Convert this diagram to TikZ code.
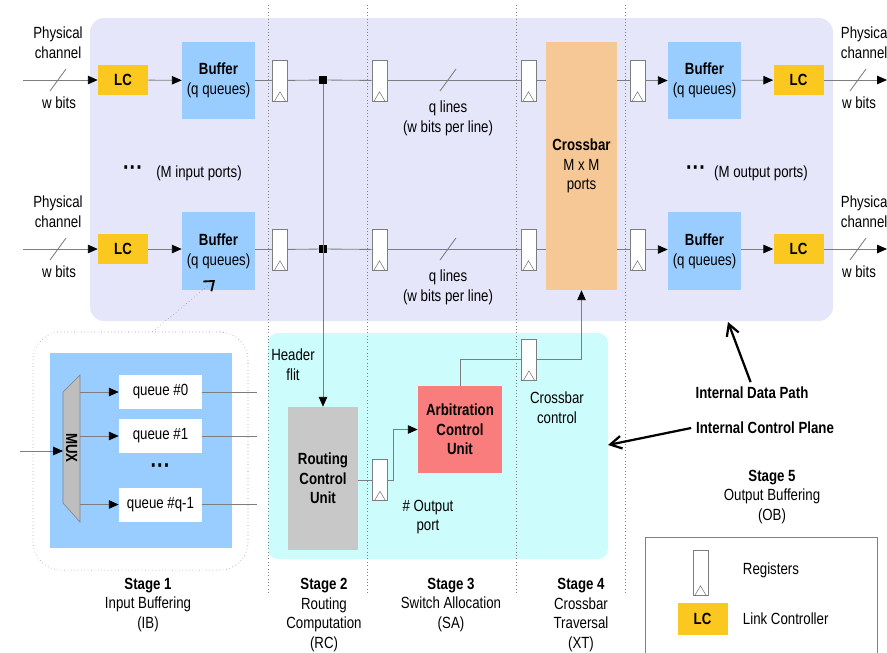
\documentclass[tikz,border=0pt]{standalone}
\usepackage{fontspec}
\setmainfont{Liberation Sans}[FakeStretch=0.82]
\usepackage{tikz}
\usepackage{xcolor}
\usetikzlibrary{positioning, arrows.meta, calc}

\definecolor{pathbg}{RGB}{230,230,250}
\definecolor{ctrlbg}{RGB}{204,252,252}
\definecolor{bufblue}{RGB}{153,204,255}
\definecolor{lcgold}{RGB}{250,200,30}
\definecolor{xbarpeach}{RGB}{245,200,150}
\definecolor{arbred}{RGB}{250,125,125}
\definecolor{rcugray}{RGB}{200,200,200}
\definecolor{muxgray}{RGB}{190,190,190}
\definecolor{wiregray}{RGB}{125,125,125}
\newcommand{\diagfont}{\fontsize{11.5}{14}\selectfont}

\begin{document}
\begin{tikzpicture}[
                x=0.025cm, y=-0.025cm,
                font=\diagfont,
                wire/.style={draw=wiregray, line width=0.6pt},
                data_flow/.style={wire, -{Triangle[length=7pt, width=6pt, black]}},
                note_arrow/.style={line width=1.6pt, -{Straight Barb[length=8pt, width=9pt]}},
                zoom_link/.style={draw=gray, dotted, -{Straight Barb[black, length=6pt, width=9pt, line width=1.3pt]}},
                stage_line/.style={draw=gray, dotted},
                lc_box/.style={rectangle, fill=lcgold, minimum width=1.25cm, minimum height=0.75cm, inner sep=0pt, font=\diagfont\bfseries},
                buf_box/.style={rectangle, fill=bufblue, minimum width=1.825cm, minimum height=1.925cm, inner sep=0pt, align=center},
                reg_box/.style={rectangle, draw=wiregray, fill=white, minimum width=0.375cm, minimum height=1.025cm, inner sep=0pt,
                    path picture={\draw[wiregray] ([xshift=1.5pt]path picture bounding box.south west) -- ([yshift=0.23cm]path picture bounding box.south) -- ([xshift=-1.5pt]path picture bounding box.south east);}},
                junc_dot/.style={rectangle, fill=black, minimum size=0.2cm, inner sep=0pt},
                queue_box/.style={rectangle, fill=white, minimum width=2.075cm, minimum height=0.85cm, inner sep=0pt},
                unit_box/.style={rectangle, inner sep=0pt, align=center, font=\diagfont\bfseries},
                dots_text/.style={font=\fontsize{17}{17}\selectfont\bfseries},
                label_text/.style={align=center},
                slash/.style={wire}
            ]
                \useasboundingbox (0,0) rectangle (887,652);

                % Internal data path and control plane
                \fill[pathbg, rounded corners=10pt] (90,18) rectangle (833,321);
                \fill[ctrlbg, rounded corners=7pt] (268,333) rectangle (608,559);

                % Pipeline stage boundaries
                \draw[stage_line] (268,5) -- (268,593);
                \draw[stage_line] (367,5) -- (367,593);
                \draw[stage_line] (516,5) -- (516,593);
                \draw[stage_line] (625,5) -- (625,593);

                % Crossbar
                \node[unit_box, fill=xbarpeach, minimum width=1.775cm, minimum height=6.2cm, font=\diagfont] (xbar) at (581.5,166) {\textbf{Crossbar}\\M x M\\ports};

                % Port 1
                \coordinate (in1_start) at (23,80);
                \node[lc_box] (lc_in1) at (123,80) {LC};
                \node[buf_box] (buf_in1) at (218.5,80.5) {\textbf{Buffer}\\(q queues)};
                \node[reg_box] (reg_a1) at (280,80.5) {};
                \node[junc_dot] (junc1) at (323,80) {};
                \node[reg_box] (reg_b1) at (379.5,80.5) {};
                \node[reg_box] (reg_c1) at (528.5,80.5) {};
                \node[reg_box] (reg_d1) at (637.5,80.5) {};
                \node[buf_box] (buf_out1) at (704.5,80.5) {\textbf{Buffer}\\(q queues)};
                \node[lc_box] (lc_out1) at (798.5,80) {LC};
                \coordinate (out1_end) at (887,80);
                \draw[data_flow] (in1_start) -- (lc_in1);
                \draw[data_flow] (lc_in1) -- (buf_in1);
                \draw[wire] (buf_in1) -- (reg_a1);
                \draw[wire] (reg_a1) -- (junc1) -- (reg_b1);
                \draw[wire] (reg_b1) -- (reg_c1);
                \draw[wire] (reg_c1) -- (reg_c1 -| xbar.west);
                \draw[wire] (xbar.east |- reg_d1) -- (reg_d1);
                \draw[data_flow] (reg_d1) -- (buf_out1);
                \draw[data_flow] (buf_out1) -- (lc_out1);
                \draw[data_flow] (lc_out1) -- (out1_end);
                \draw[slash] (58,80) ++(-8,11) -- ++(16,-22);
                \draw[slash] (448,80) ++(-8,11) -- ++(16,-22);
                \draw[slash] (858,80) ++(-8,11) -- ++(16,-22);
                \node[label_text] (phys_in1) at (58,43) {Physical\\channel};
                \node (bits_in1) at (59,103) {w bits};
                \node[label_text] (lines1) at (448,118) {q lines\\(w bits per line)};
                \node[align=left, anchor=west] (phys_out1) at (836,43) {Physical\\channel};
                \node (bits_out1) at (859,103) {w bits};

                % Port M
                \coordinate (in2_start) at (23,249);
                \node[lc_box] (lc_in2) at (123,249) {LC};
                \node[buf_box] (buf_in2) at (218.5,251) {\textbf{Buffer}\\(q queues)};
                \node[reg_box] (reg_a2) at (280,249.5) {};
                \node[junc_dot] (junc2) at (323,249) {};
                \node[reg_box] (reg_b2) at (379.5,249.5) {};
                \node[reg_box] (reg_c2) at (528.5,249.5) {};
                \node[reg_box] (reg_d2) at (637.5,249.5) {};
                \node[buf_box] (buf_out2) at (704.5,251) {\textbf{Buffer}\\(q queues)};
                \node[lc_box] (lc_out2) at (798.5,249) {LC};
                \coordinate (out2_end) at (887,249);
                \draw[data_flow] (in2_start) -- (lc_in2);
                \draw[data_flow] (lc_in2) -- (lc_in2 -| buf_in2.west);
                \draw[wire] (buf_in2.east |- reg_a2) -- (reg_a2);
                \draw[wire] (reg_a2) -- (junc2) -- (reg_b2);
                \draw[wire] (reg_b2) -- (reg_c2);
                \draw[wire] (reg_c2) -- (reg_c2 -| xbar.west);
                \draw[wire] (xbar.east |- reg_d2) -- (reg_d2);
                \draw[data_flow] (reg_d2) -- (reg_d2 -| buf_out2.west);
                \draw[data_flow] (buf_out2.east |- lc_out2) -- (lc_out2);
                \draw[data_flow] (lc_out2) -- (out2_end);
                \draw[slash] (58,249) ++(-8,11) -- ++(16,-22);
                \draw[slash] (448,249) ++(-8,11) -- ++(16,-22);
                \draw[slash] (858,249) ++(-8,11) -- ++(16,-22);
                \node[label_text] (phys_in2) at (58,212) {Physical\\channel};
                \node (bits_in2) at (59,272) {w bits};
                \node[label_text] (lines2) at (448,287) {q lines\\(w bits per line)};
                \node[align=left, anchor=west] (phys_out2) at (836,212) {Physical\\channel};
                \node (bits_out2) at (859,272) {w bits};

                % Port counts
                \node[dots_text] (in_dots) at (133,171) {···};
                \node (in_ports) at (199,173) {(M input ports)};
                \node[dots_text] (out_dots) at (696,171) {···};
                \node (out_ports) at (761,173) {(M output ports)};

                % Control plane
                \node[unit_box, fill=rcugray, minimum width=1.725cm, minimum height=3.575cm] (rcu) at (323,478.5) {Routing\\Control\\Unit};
                \node[reg_box] (reg_r) at (380,480) {};
                \node[unit_box, fill=arbred, minimum width=2.1cm, minimum height=2.175cm] (acu) at (460,429.5) {Arbitration\\Control\\Unit};
                \node[reg_box] (reg_x) at (529,359.5) {};
                \draw[data_flow] (junc1) -- (junc1 |- rcu.north);
                \draw[wire] (rcu.east |- reg_r) -- (reg_r);
                \draw[data_flow] (reg_r.east) -- ++(6,0) |- (acu);
                \draw[wire] (acu) |- (reg_x);
                \draw[data_flow] (reg_x) -| (xbar);
                \node[label_text] (header) at (293,365) {Header\\flit};
                \node[label_text] (out_port) at (428,517) {\# Output\\port};
                \node[label_text] (xbar_ctrl) at (557,408) {Crossbar\\control};

                % Input buffer detail
                \node[draw=gray, dotted, rounded corners=20pt, minimum width=5.375cm, minimum height=5.95cm] (ib_group) at (140.5,451) {};
                \fill[bufblue] (50,353) rectangle (232,548);
                \filldraw[fill=muxgray, draw=gray] (63,392) -- (80,375) -- (80,522) -- (63,503) -- cycle;
                \node[rotate=-90, font=\diagfont\bfseries] (mux) at (71.5,448) {MUX};
                \coordinate (mux_src) at (20,451);
                \coordinate (mux_w) at (63,451);
                \coordinate (mux_e) at (80,451);
                \coordinate (ib_exit) at (257,451);
                \node[queue_box] (q0) at (160.5,392) {queue \#0};
                \node[queue_box] (q1) at (160.5,436) {queue \#1};
                \node[dots_text] (qdots) at (160.5,469) {···};
                \node[queue_box] (qlast) at (160.5,504.5) {queue \#q-1};
                \draw[data_flow] (mux_src) -- (mux_w);
                \draw[data_flow] (q0 -| mux_e) -- (q0);
                \draw[data_flow] (q1 -| mux_e) -- (q1);
                \draw[data_flow] (qlast -| mux_e) -- (qlast);
                \draw[wire] (q0) -- (q0 -| ib_exit);
                \draw[wire] (q1) -- (q1 -| ib_exit);
                \draw[wire] (qlast) -- (qlast -| ib_exit);
                \coordinate (zoom_tip) at (215,280);
                \draw[zoom_link] ($(ib_group.north)+(12,0)$) -- (zoom_tip);

                % Stage names
                \node[label_text] (stage1) at (148,605) {\textbf{Stage 1}\\Input Buffering\\(IB)};
                \node[label_text] (stage2) at (324,615) {\textbf{Stage 2}\\Routing\\Computation\\(RC)};
                \node[label_text] (stage3) at (451,605) {\textbf{Stage 3}\\Switch Allocation\\(SA)};
                \node[label_text] (stage4) at (581,615) {\textbf{Stage 4}\\Crossbar\\Traversal\\(XT)};
                \node[label_text] (stage5) at (772,497) {\textbf{Stage 5}\\Output Buffering\\(OB)};

                % Plane labels
                \node[font=\diagfont\bfseries] (dp_label) at (752,393) {Internal Data Path};
                \node[font=\diagfont\bfseries] (cp_label) at (765,428) {Internal Control Plane};
                \coordinate (dp_tip) at (728,322);
                \coordinate (cp_tip) at (608,445);
                \draw[note_arrow] ([xshift=-1pt]dp_label.north) -- (dp_tip);
                \draw[note_arrow] (cp_label.west) -- (cp_tip);

                % Legend
                \draw[gray] (645,537) rectangle (877,670);
                \node[reg_box, minimum height=1.125cm] (leg_reg) at (700.5,572.5) {};
                \node[anchor=west] (leg_reg_text) at (738,570) {Registers};
                \node[lc_box, minimum height=0.8cm] (leg_lc) at (702.5,619) {LC};
                \node[anchor=west] (leg_lc_text) at (738,619) {Link Controller};

            \end{tikzpicture}
\end{document}
